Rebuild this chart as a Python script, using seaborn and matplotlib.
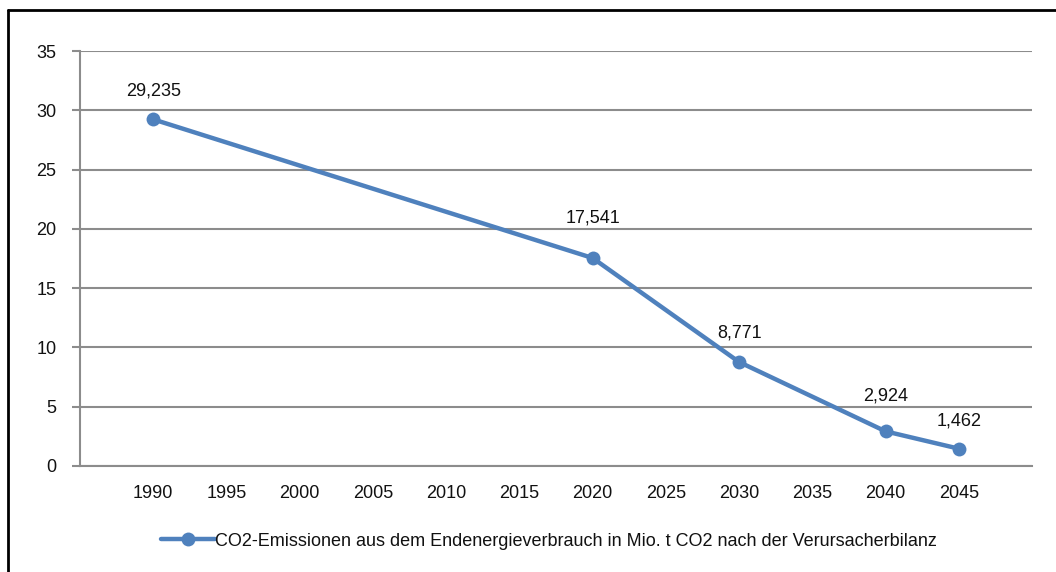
import matplotlib
matplotlib.use("Agg")
import matplotlib.pyplot as plt
import seaborn as sns
import pandas as pd
from matplotlib.lines import Line2D

years = [1990, 2020, 2030, 2040, 2045]
values = [29.235, 17.541, 8.771, 2.924, 1.462]
labels = ["29,235", "17,541", "8,771", "2,924", "1,462"]
xticks = [1990, 1995, 2000, 2005, 2010, 2015, 2020, 2025, 2030, 2035, 2040, 2045]
series_name = "CO2-Emissionen aus dem Endenergieverbrauch in Mio. t CO2 nach der Verursacherbilanz"

# label offsets above points (points), a styling detail only
label_offsets = [14, 23, 15, 19, 14]

sns.set_theme(style="white")
plt.rcParams['font.family'] = ['Liberation Sans', 'DejaVu Sans']

df = pd.DataFrame({"Jahr": years, "Wert": values})

fig = plt.figure(figsize=(10.56, 5.72), dpi=100)
ax = fig.add_axes([80/1056, 1-466/572, (1032-80)/1056, (466-51)/572])

color = "#4F81BD"
fs = 13
sns.lineplot(data=df, x="Jahr", y="Wert", ax=ax, color=color, linewidth=3.2,
             marker="o", markersize=10, markeredgewidth=0, legend=False)

for x, y, t, off in zip(years, values, labels, label_offsets):
    ax.annotate(t, (x, y), xytext=(0, off), textcoords="offset points",
                ha="center", va="bottom", fontsize=fs, color="#111111")

ax.set_xlim(1985, 2050)
ax.set_ylim(0, 35)
ax.set_yticks(range(0, 36, 5))
ax.set_xticks(xticks)
ax.set_xticklabels([str(v) for v in xticks])
ax.set_xlabel("")
ax.set_ylabel("")
ax.tick_params(axis="y", length=6, width=1.5, color="#8C8C8C", labelsize=fs,
               labelcolor="#111111", left=True, pad=11)
ax.tick_params(axis="x", length=0, labelsize=fs, labelcolor="#111111", pad=14)
ax.grid(axis="y", color="#8C8C8C", linewidth=1.5)
ax.grid(axis="x", visible=False)
for s in ["top", "right"]:
    ax.spines[s].set_visible(False)
ax.spines["left"].set_color("#8C8C8C")
ax.spines["left"].set_linewidth(1.5)
ax.spines["bottom"].set_color("#8C8C8C")
ax.spines["bottom"].set_linewidth(1.5)
ax.set_axisbelow(True)

handle = Line2D([], [], color=color, linewidth=3.2, marker="o", markersize=10,
                markeredgewidth=0)
fig.legend([handle], [series_name], loc="center", bbox_to_anchor=(0.52, 1-541/572),
           frameon=False, fontsize=fs, handlelength=3.0, handletextpad=0.0,
           labelcolor="#111111")

# outer chart frame (top and left visible)
fig.add_artist(Line2D([8/1056, 8/1056], [0, 1-10/572], transform=fig.transFigure,
                      color="black", linewidth=2))
fig.add_artist(Line2D([8/1056, 1], [1-10/572, 1-10/572], transform=fig.transFigure,
                      color="black", linewidth=2))

fig.savefig("out.png", dpi=100)
